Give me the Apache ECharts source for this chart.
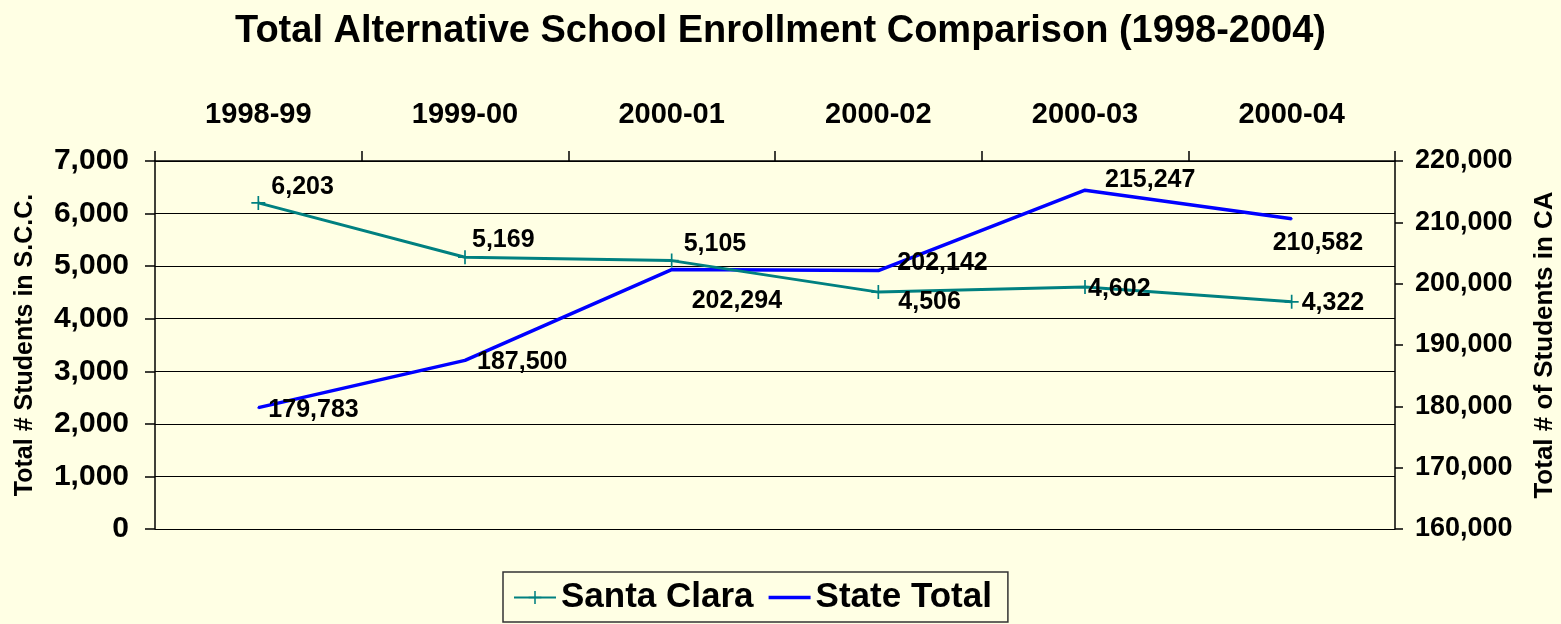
<!DOCTYPE html>
<html>
<head>
<meta charset="utf-8">
<script src="https://cdn.jsdelivr.net/npm/echarts@6/dist/echarts.min.js"></script>
<style>
html,body{margin:0;padding:0;background:#FFFFE4;}
#chart{width:1561px;height:624px;}
</style>
</head>
<body>
<div id="chart"></div>
<script>
const categories = ['1998-99', '1999-00', '2000-01', '2000-02', '2000-03', '2000-04'];
const santaClara = [6203, 5169, 5105, 4506, 4602, 4322];
const stateTotal = [179783, 187500, 202294, 202142, 215247, 210582];
const leftTicks = {min: 0, max: 7000, interval: 1000};
const rightTicks = {min: 160000, max: 220000, interval: 10000};

// label offsets (presentation only)
const scOffsets = [[6, -16], [0, -17], [5, -17], [13, 10], [-4, 2], [3, 1]];
const stOffsets = [[9, 2], [11, 2], [19, 32], [18, -7], [19, -10], [-20, 24]];

const fmt = v => v.toLocaleString('en-US');
const FONT = 'Arial, "Liberation Sans", sans-serif';
const TEAL = '#008080';
const BLUE = '#0000FF';
const plus = 'path://M0,4.4 L10,4.4 L10,5.6 L0,5.6 Z M4.4,0 L5.6,0 L5.6,10 L4.4,10 Z';
const lineIcon = 'path://M0,0 L42,0 L42,3.5 L0,3.5 Z';

const chart = echarts.init(document.getElementById('chart'), null, {renderer: 'canvas'});
const option = {
  backgroundColor: '#FFFFE4',
  animation: false,
  textStyle: {fontFamily: FONT},
  title: {
    text: 'Total Alternative School Enrollment Comparison (1998-2004)',
    left: 'center', top: 8,
    textStyle: {fontFamily: FONT, fontWeight: 'bold', fontSize: 38, color: '#000'}
  },
  legend: {
    left: 503, top: 572, orient: 'horizontal',
    padding: [8, 16, 7, 10],
    borderColor: '#333', borderWidth: 1.5,
    itemWidth: 42, itemHeight: 16, itemGap: 15,
    symbolKeepAspect: true,
    textStyle: {fontFamily: FONT, fontWeight: 'bold', fontSize: 35, color: '#000'},
    data: [{name: 'Santa Clara'}, {name: 'State Total', icon: lineIcon}]
  },
  grid: {left: 155, right: 166, top: 161, bottom: 95, containLabel: false, outerBoundsMode: 'none'},
  xAxis: {
    type: 'category', position: 'top', data: categories, boundaryGap: true,
    axisLine: {show: true, onZero: false, lineStyle: {color: '#000', width: 1.5}},
    axisTick: {show: true, length: 10, lineStyle: {color: '#000', width: 1.5}},
    axisLabel: {margin: 32, color: '#000', fontFamily: FONT, fontWeight: 'bold', fontSize: 29},
    splitLine: {show: false}
  },
  yAxis: [
    {
      type: 'value', position: 'left',
      min: leftTicks.min, max: leftTicks.max, interval: leftTicks.interval,
      name: 'Total # Students in S.C.C.', nameLocation: 'middle', nameGap: 117, nameRotate: 90,
      nameTextStyle: {fontFamily: FONT, fontWeight: 'bold', fontSize: 25, color: '#000'},
      axisLine: {show: true, lineStyle: {color: '#000', width: 1.5}},
      axisTick: {show: true, length: 10, lineStyle: {color: '#000', width: 1.5}},
      axisLabel: {margin: 26, color: '#000', fontFamily: FONT, fontWeight: 'bold', fontSize: 30, formatter: fmt},
      splitLine: {show: true, lineStyle: {color: '#000', width: 1}}
    },
    {
      type: 'value', position: 'right',
      min: rightTicks.min, max: rightTicks.max, interval: rightTicks.interval,
      name: 'Total # of Students in CA', nameLocation: 'middle', nameGap: 137, nameRotate: 90,
      nameTextStyle: {fontFamily: FONT, fontWeight: 'bold', fontSize: 26, color: '#000'},
      axisLine: {show: true, lineStyle: {color: '#000', width: 1.5}},
      axisTick: {show: true, length: 8, lineStyle: {color: '#000', width: 1.5}},
      axisLabel: {margin: 20, color: '#000', fontFamily: FONT, fontWeight: 'bold', fontSize: 27, formatter: fmt},
      splitLine: {show: false}
    }
  ],
  series: [
    {
      name: 'Santa Clara', type: 'line', yAxisIndex: 0,
      symbol: plus, symbolSize: 14, showSymbol: true,
      lineStyle: {color: TEAL, width: 3},
      itemStyle: {color: TEAL, borderWidth: 0},
      data: santaClara.map((v, i) => ({
        value: v,
        label: {show: true, position: 'right', distance: 0, offset: scOffsets[i],
          formatter: p => fmt(p.value), color: '#000', fontFamily: FONT, fontWeight: 'bold', fontSize: 25}
      })),
      z: 3
    },
    {
      name: 'State Total', type: 'line', yAxisIndex: 1,
      symbol: 'circle', symbolSize: 2, showSymbol: true,
      lineStyle: {color: BLUE, width: 3.5},
      itemStyle: {color: BLUE, borderWidth: 0},
      data: stateTotal.map((v, i) => ({
        value: v,
        label: {show: true, position: 'right', distance: 0, offset: stOffsets[i],
          formatter: p => fmt(p.value), color: '#000', fontFamily: FONT, fontWeight: 'bold', fontSize: 25}
      })),
      z: 2
    }
  ]
};
chart.setOption(option);
</script>
</body>
</html>
